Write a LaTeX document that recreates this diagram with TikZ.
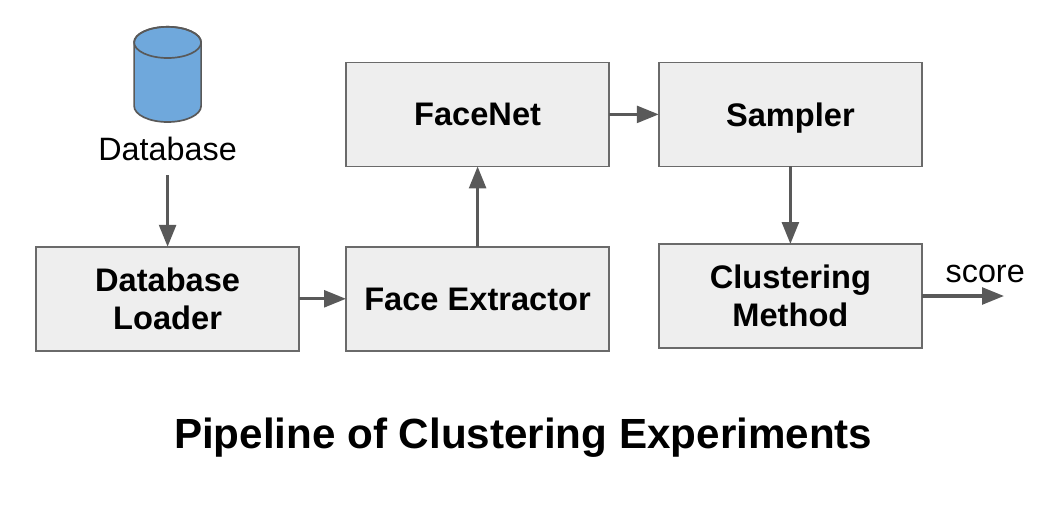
\documentclass[tikz,border=0pt]{standalone}
\usepackage{fontspec}
\setmainfont{Liberation Sans}
\usepackage{tikz}
\usetikzlibrary{arrows.meta}
\definecolor{boxgray}{HTML}{EEEEEE}
\definecolor{linegray}{HTML}{595959}
\definecolor{dbblue}{HTML}{6FA8DC}
\begin{document}
\begin{tikzpicture}[
	every node/.style={inner sep=0,outer sep=0},
	stagebox/.style={draw=linegray!90,line width=1.2pt,fill=boxgray,minimum width=6.58cm,minimum height=2.6cm,align=center,text depth=-5pt,font=\fontsize{23.2}{27}\selectfont\bfseries},
	dbshape/.style={draw=linegray,line width=1.2pt},
	flow/.style={draw=linegray,line width=2.3pt,-{Triangle[length=.55cm,width=.42cm]}}]
	\useasboundingbox (0,0) rectangle (26.4,12.6);
	\coordinate (database) at (4.19,11.54);
	\draw[dbshape,fill=dbblue] (database) ++(-.8375,0) -- ++(0,-1.59) arc[start angle=180,end angle=360,x radius=.8375,y radius=.4] -- ++(0,1.59) arc[start angle=0,end angle=180,x radius=.8375,y radius=.39] -- cycle;
	\draw[dbshape] (database) ellipse (.8375 and .39);
	\node[minimum height=1.3cm,font=\fontsize{23}{27}\selectfont] (dbname) at (4.19,8.875) {Database};
	\node[stagebox] (loader) at (4.19,5.13) {Database\\Loader};
	\node[stagebox] (extractor) at (11.94,5.13) {Face Extractor};
	\node[stagebox] (facenet) at (11.94,9.74) {FaceNet};
	\node[stagebox] (sampler) at (19.76,9.74) {Sampler};
	\node[stagebox] (clustering) at (19.76,5.2) {Clustering\\Method};
	\coordinate (out) at (25.1,5.2);
	\node[font=\fontsize{23}{27}\selectfont] (score) at (24.63,5.75) {score};
	\node[font=\fontsize{30}{34}\selectfont\bfseries] (title) at (13.08,1.65) {Pipeline of Clustering Experiments};
	\draw[flow] (dbname) -- (loader);
	\draw[flow] (loader) -- (extractor);
	\draw[flow] (extractor) -- (facenet);
	\draw[flow] (facenet) -- (sampler);
	\draw[flow] (sampler) -- (clustering);
	\draw[flow] (clustering) -- (out);
\end{tikzpicture}
\end{document}
